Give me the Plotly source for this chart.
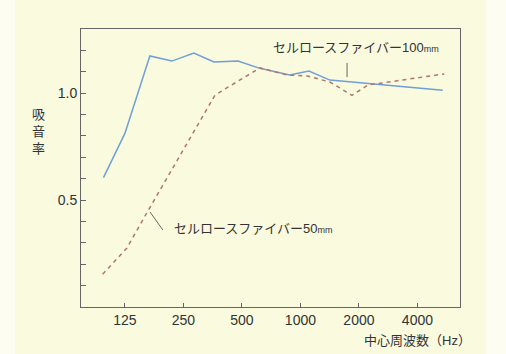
import plotly.graph_objects as go

# Data (frequency in Hz, absorption coefficient)
freq_100mm = [97, 125, 168, 218, 283, 359, 477, 619, 880, 1106, 1418, 2476, 5400]
alpha_100mm = [0.605, 0.812, 1.174, 1.150, 1.188, 1.146, 1.150, 1.116, 1.085, 1.103, 1.061, 1.042, 1.014]

freq_50mm = [96, 128, 162, 206, 287, 363, 424, 619, 850, 1087, 1418, 1843, 2227, 5500]
alpha_50mm = [0.153, 0.276, 0.44, 0.605, 0.826, 0.99, 1.028, 1.118, 1.085, 1.08, 1.052, 0.99, 1.038, 1.09]

x_tickvals = [125, 250, 500, 1000, 2000, 4000]
x_ticktext = ["125", "250", "500", "1000", "2000", "4000"]
y_tickvals = [0.1, 0.2, 0.3, 0.4, 0.5, 0.6, 0.7, 0.8, 0.9, 1.0, 1.1, 1.2]
y_ticktext = ["", "", "", "", "0.5", "", "", "", "", "1.0", "", ""]

label_100 = "セルロースファイバー100<span style='font-size:9px'>mm</span>"
label_50 = "セルロースファイバー50<span style='font-size:9px'>mm</span>"
y_title = "吸<br>音<br>率"
x_title = "中心周波数（Hz）"

bg = "#fafadf"
font_family = "Liberation Sans, Noto Sans CJK JP, sans-serif"

fig = go.Figure()
fig.add_trace(go.Scatter(x=freq_100mm, y=alpha_100mm, mode="lines",
                         line=dict(color="#6f9fd6", width=1.5), showlegend=False))
fig.add_trace(go.Scatter(x=freq_50mm, y=alpha_50mm, mode="lines",
                         line=dict(color="#b0766a", width=1.5, dash="4px,4px"), showlegend=False))

ann_font = dict(size=13, color="#333333")

fig.update_layout(
    width=506, height=354,
    margin=dict(l=81, r=46, t=29, b=47),
    paper_bgcolor=bg, plot_bgcolor=bg,
    font=dict(family=font_family, size=14, color="#333333"),
    xaxis=dict(type="log", range=[1.871, 3.821], tickvals=x_tickvals, ticktext=x_ticktext,
               ticks="inside", ticklen=4, tickcolor="#666666", showgrid=False, zeroline=False,
               showline=True, linecolor="#666666", linewidth=1, mirror=True,
               tickfont=dict(size=14, color="#333333")),
    yaxis=dict(range=[0, 1.3], tickvals=y_tickvals, ticktext=y_ticktext,
               ticks="inside", ticklen=5, tickcolor="#666666", showgrid=False, zeroline=False,
               showline=True, linecolor="#666666", linewidth=1, mirror=True,
               tickfont=dict(size=14, color="#333333")),
    shapes=[
        dict(type="rect", xref="paper", yref="paper", x0=-0.214, x1=-0.174, y0=-0.2, y1=1.2,
             fillcolor="#fdfdf2", line=dict(width=0), layer="below"),
        dict(type="rect", xref="paper", yref="paper", x0=1.069, x1=1.13, y0=-0.2, y1=1.2,
             fillcolor="#fdfdf2", line=dict(width=0), layer="below"),
        dict(type="line", xref="paper", yref="paper", x0=0.702, x1=0.702, y0=0.878, y1=0.827,
             line=dict(color="#666666", width=1)),
        dict(type="line", xref="paper", yref="paper", x0=0.182, x1=0.216, y0=0.342, y1=0.277,
             line=dict(color="#666666", width=1)),
    ],
    annotations=[
        dict(text=label_100, xref="paper", yref="paper", x=0.726, y=0.932,
             xanchor="center", yanchor="middle", showarrow=False, font=ann_font),
        dict(text=label_50, xref="paper", yref="paper", x=0.456, y=0.284,
             xanchor="center", yanchor="middle", showarrow=False, font=ann_font),
        dict(text=y_title, xref="paper", yref="paper", x=-0.113, y=0.63,
             xanchor="center", yanchor="middle", showarrow=False, font=ann_font),
        dict(text=x_title, xref="paper", yref="paper", x=1.034, y=-0.119,
             xanchor="right", yanchor="middle", showarrow=False, font=ann_font),
    ],
)

fig.write_html("out.html", config={"displayModeBar": False},
               post_script="document.body.style.margin='0';document.body.style.overflow='hidden';")
